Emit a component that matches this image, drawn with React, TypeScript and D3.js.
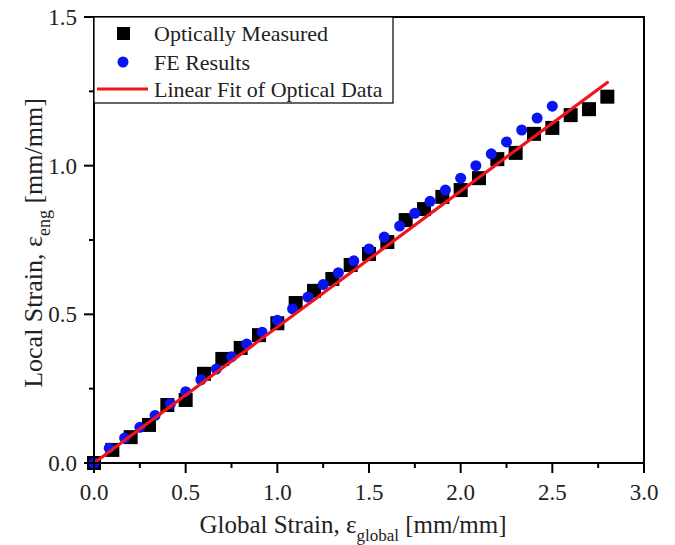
import React from "react";
import * as d3 from "d3";

// optically measured (black squares)
const measuredX = [0, 0.1, 0.2, 0.3, 0.4, 0.5, 0.6, 0.7, 0.8, 0.9, 1.0, 1.1, 1.2, 1.3, 1.4, 1.5, 1.6, 1.7, 1.8, 1.9, 2.0, 2.1, 2.2, 2.3, 2.4, 2.5, 2.6, 2.7, 2.8];
const measuredY = [0, 0.044, 0.087, 0.128, 0.195, 0.212, 0.3, 0.35, 0.387, 0.43, 0.47, 0.538, 0.579, 0.619, 0.666, 0.703, 0.743, 0.817, 0.854, 0.895, 0.918, 0.958, 1.022, 1.043, 1.107, 1.127, 1.17, 1.19, 1.232];

// FE results (blue dots)
const feX = [0, 0.083, 0.167, 0.25, 0.333, 0.417, 0.5, 0.583, 0.667, 0.75, 0.833, 0.917, 1.0, 1.083, 1.167, 1.25, 1.333, 1.417, 1.5, 1.583, 1.667, 1.75, 1.833, 1.917, 2.0, 2.083, 2.167, 2.25, 2.333, 2.417, 2.5];
const feY = [0, 0.05, 0.084, 0.12, 0.16, 0.2, 0.24, 0.28, 0.316, 0.357, 0.4, 0.44, 0.48, 0.518, 0.558, 0.6, 0.64, 0.68, 0.72, 0.76, 0.797, 0.84, 0.88, 0.918, 0.958, 1.0, 1.04, 1.08, 1.12, 1.16, 1.2];

// linear fit end points
const fitX = [0, 2.8];
const fitY = [0, 1.28];

const xTicks = [0, 0.5, 1.0, 1.5, 2.0, 2.5, 3.0];
const xMinor = [0.25, 0.75, 1.25, 1.75, 2.25, 2.75];
const yTicks = [0, 0.5, 1.0, 1.5];
const yMinor = [0.25, 0.75, 1.25];

const FONT = "'Liberation Serif', 'Times New Roman', serif";

export default function App() {
  const x = d3.scaleLinear().domain([0, 3]).range([94, 644]);
  const y = d3.scaleLinear().domain([0, 1.5]).range([463, 17]);

  const fitLine = d3
    .line<number>()
    .x((d) => x(d))
    .y((d, i) => y(fitY[i]));

  const sq = 14;

  return (
    <svg
      width={675}
      height={545}
      style={{ position: "absolute", left: 0, top: 0, background: "#fff" }}
      fontFamily={FONT}
    >
      <rect x={0} y={0} width={675} height={545} fill="#fff" />

      {/* data */}
      {measuredX.map((d, i) => (
        <rect
          key={"m" + i}
          x={x(d) - sq / 2}
          y={y(measuredY[i]) - sq / 2}
          width={sq}
          height={sq}
          fill="#000"
        />
      ))}
      {feX.map((d, i) => (
        <circle key={"f" + i} cx={x(d)} cy={y(feY[i])} r={5.5} fill="#0a14f0" />
      ))}
      <path d={fitLine(fitX) || ""} stroke="#f0141e" strokeWidth={3.2} fill="none" strokeLinecap="round" />

      {/* frame */}
      <rect x={94} y={17} width={550} height={446} fill="none" stroke="#000" strokeWidth={2} />

      {/* x ticks */}
      {xTicks.map((t) => (
        <g key={"xt" + t}>
          <line x1={x(t)} x2={x(t)} y1={463} y2={473} stroke="#000" strokeWidth={2} />
          <text x={x(t)} y={500} textAnchor="middle" fontSize={23} fill="#222">
            {t.toFixed(1)}
          </text>
        </g>
      ))}
      {xMinor.map((t) => (
        <line key={"xm" + t} x1={x(t)} x2={x(t)} y1={463} y2={468} stroke="#000" strokeWidth={2} />
      ))}

      {/* y ticks */}
      {yTicks.map((t) => (
        <g key={"yt" + t}>
          <line x1={84} x2={94} y1={y(t)} y2={y(t)} stroke="#000" strokeWidth={2} />
          <text x={77} y={y(t) + 8} textAnchor="end" fontSize={23} fill="#222">
            {t.toFixed(1)}
          </text>
        </g>
      ))}
      {yMinor.map((t) => (
        <line key={"ym" + t} x1={89} x2={94} y1={y(t)} y2={y(t)} stroke="#000" strokeWidth={2} />
      ))}

      {/* axis titles */}
      <text x={353} y={533} textAnchor="middle" fontSize={25} fill="#222">
        Global Strain, ε
        <tspan fontSize={17} dy={8}>global</tspan>
        <tspan dy={-8}> [mm/mm]</tspan>
      </text>
      <text
        transform="translate(42,243) rotate(-90)"
        textAnchor="middle"
        fontSize={26}
        fill="#222"
      >
        Local Strain, ε
        <tspan fontSize={18} dy={8}>eng</tspan>
        <tspan dy={-8}> [mm/mm]</tspan>
      </text>

      {/* legend */}
      <rect x={94} y={17} width={299} height={86} fill="#fff" stroke="#000" strokeWidth={1.2} />
      <rect x={117} y={27} width={13} height={13} fill="#000" />
      <text x={154} y={41} fontSize={22} fill="#222">Optically Measured</text>
      <circle cx={123} cy={62} r={5.5} fill="#0a14f0" />
      <text x={154} y={70} fontSize={22} fill="#222">FE Results</text>
      <line x1={97} x2={148} y1={89} y2={89} stroke="#f0141e" strokeWidth={3.2} />
      <text x={154} y={97} fontSize={22} fill="#222">Linear Fit of Optical Data</text>
    </svg>
  );
}
